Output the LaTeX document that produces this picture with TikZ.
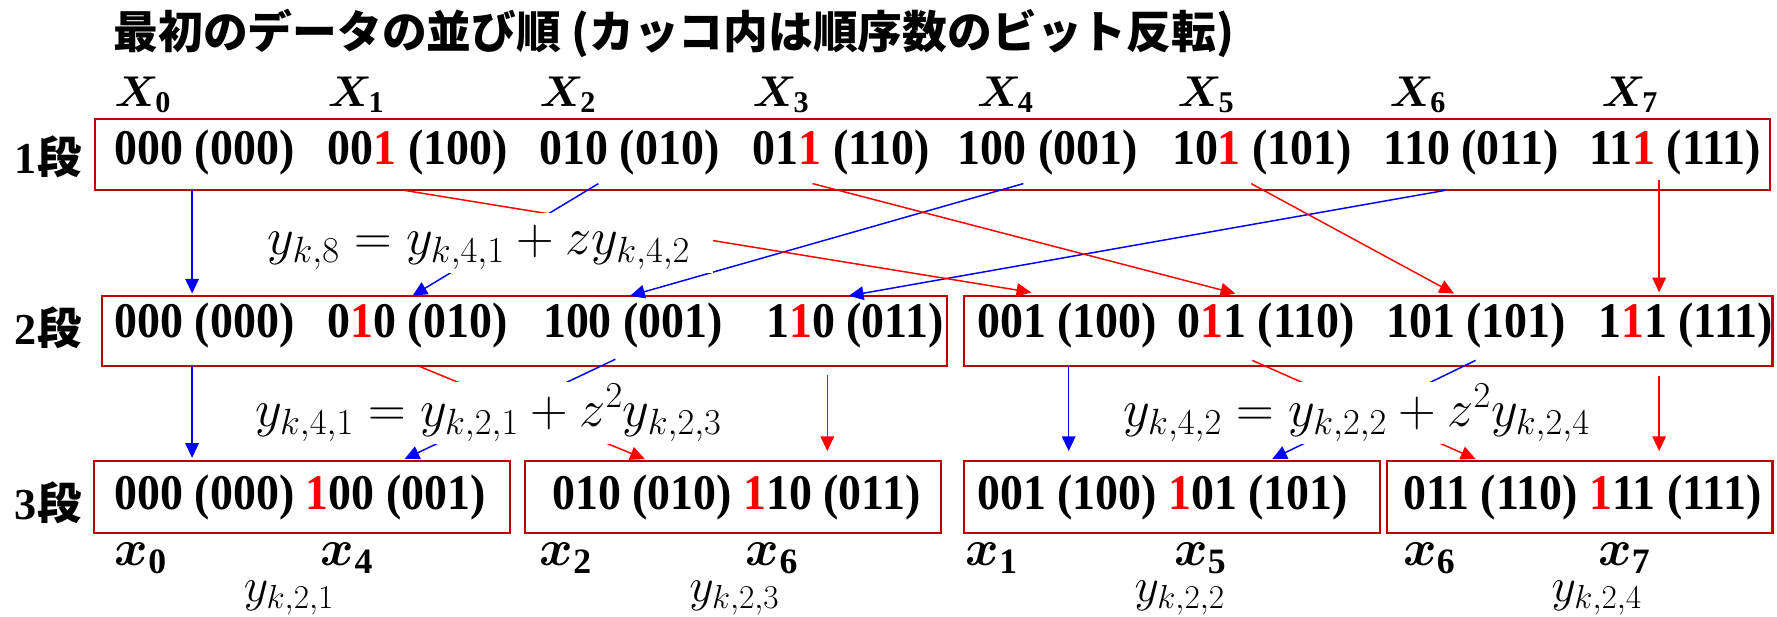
\RequirePackage{fix-cm}
\documentclass[tikz,border=0pt]{standalone}
\usepackage{amsmath}
\usepackage{bm}
\usepackage{fontspec}
\setmainfont{Liberation Serif}
\newfontfamily\ent{Liberation Serif}[FakeStretch=0.92]
\newfontfamily\jp{Noto Sans CJK JP}
\usetikzlibrary{arrows.meta}
\definecolor{boxred}{RGB}{192,0,0}
\definecolor{ared}{RGB}{255,0,0}
\definecolor{ablue}{RGB}{0,0,255}
\newcommand{\rd}[1]{\textcolor{ared}{#1}}
\tikzset{
  entry/.style={anchor=base west, inner sep=0pt, font=\ent\bfseries\fontsize{44}{50}\selectfont},
  rowbox/.style={draw=boxred, line width=1.8pt, inner sep=0pt},
  xlab/.style={anchor=base west, inner sep=0pt, font=\fontsize{38}{44}\selectfont},
  blab/.style={anchor=base west, inner sep=0pt, font=\fontsize{45}{50}\selectfont},
  ylab/.style={anchor=base west, inner sep=0pt, font=\fontsize{42}{48}\selectfont},
  stage/.style={anchor=west, inner sep=0pt, font=\bfseries\fontsize{39}{44}\selectfont},
  formula/.style={anchor=base west, fill=white, inner xsep=20pt, inner ysep=0pt, font=\fontsize{46}{52}\selectfont},
  barrow/.style={draw=ablue, line width=1.3pt, -{Triangle[length=13pt,width=12pt]}},
  rarrow/.style={draw=ared, line width=1.3pt, -{Triangle[length=13pt,width=12pt]}}
}
\begin{document}
\begin{tikzpicture}[x=1pt,y=-1pt]
\useasboundingbox (0,0) rectangle (1568,544);
% title
\node[anchor=west, inner sep=0pt, font=\jp\bfseries\fontsize{39.5}{45}\selectfont] (title) at (100,29.5)
  {最初のデータの並び順 (カッコ内は順序数のビット反転)};
% X labels
\node[xlab] (X0) at (101,94) {$\bm{X}_{\mathbf{0}}$};
\node[xlab] (X1) at (289,94) {$\bm{X}_{\mathbf{1}}$};
\node[xlab] (X2) at (476,94) {$\bm{X}_{\mathbf{2}}$};
\node[xlab] (X3) at (664,94) {$\bm{X}_{\mathbf{3}}$};
\node[xlab] (X4) at (862,94) {$\bm{X}_{\mathbf{4}}$};
\node[xlab] (X5) at (1039,94) {$\bm{X}_{\mathbf{5}}$};
\node[xlab] (X6) at (1226,94) {$\bm{X}_{\mathbf{6}}$};
\node[xlab] (X7) at (1413,94) {$\bm{X}_{\mathbf{7}}$};
% stage labels
\node[stage] (s1) at (13,138) {1{\jp\bfseries 段}};
\node[stage] (s2) at (13,289) {2{\jp\bfseries 段}};
\node[stage] (s3) at (13,444) {3{\jp\bfseries 段}};
% boxes
\node[rowbox, minimum width=1478pt, minimum height=63pt] (b1) at (823,136.5) {};
\node[rowbox, minimum width=746pt, minimum height=62pt] (b2l) at (463,292) {};
\node[rowbox, minimum width=713pt, minimum height=62pt] (b2r) at (1207.5,292) {};
\node[rowbox, minimum width=367pt, minimum height=63pt] (b3a) at (266.5,438.5) {};
\node[rowbox, minimum width=367pt, minimum height=63pt] (b3b) at (646.5,438.5) {};
\node[rowbox, minimum width=367pt, minimum height=63pt] (b3c) at (1034.5,438.5) {};
\node[rowbox, minimum width=340pt, minimum height=63pt] (b3d) at (1394,438.5) {};
% row 1
\node[entry] (r1a) at (101,145) {000 (000)};
\node[entry] (r1b) at (289,145) {00\rd{1} (100)};
\node[entry] (r1c) at (476,145) {010 (010)};
\node[entry] (r1d) at (664,145) {01\rd{1} (110)};
\node[entry] (r1e) at (845,145) {100 (001)};
\node[entry] (r1f) at (1034,145) {10\rd{1} (101)};
\node[entry] (r1g) at (1221,145) {110 (011)};
\node[entry] (r1h) at (1402,145) {11\rd{1} (111)};
% row 2
\node[entry] (r2a) at (101,298) {000 (000)};
\node[entry] (r2b) at (289,298) {0\rd{1}0 (010)};
\node[entry] (r2c) at (479,298) {100 (001)};
\node[entry] (r2d) at (676,298) {1\rd{1}0 (011)};
\node[entry] (r2e) at (862,298) {001 (100)};
\node[entry] (r2f) at (1039,298) {0\rd{1}1 (110)};
\node[entry] (r2g) at (1223,298) {101 (101)};
\node[entry] (r2h) at (1410,298) {1\rd{1}1 (111)};
% row 3
\node[entry] (r3a) at (101,450) {000 (000) \rd{1}00 (001)};
\node[entry] (r3b) at (487,450) {010 (010) \rd{1}10 (011)};
\node[entry] (r3c) at (862,450) {001 (100) \rd{1}01 (101)};
\node[entry] (r3d) at (1238,450) {011 (110) \rd{1}11 (111)};
% bottom labels
\node[blab] (x0) at (101,499) {$\bm{x}_{\mathbf{0}}$};
\node[blab] (x4) at (283,499) {$\bm{x}_{\mathbf{4}}$};
\node[blab] (x2) at (476,499) {$\bm{x}_{\mathbf{2}}$};
\node[blab] (x6a) at (658,499) {$\bm{x}_{\mathbf{6}}$};
\node[blab] (x1) at (852,499) {$\bm{x}_{\mathbf{1}}$};
\node[blab] (x5) at (1036,499) {$\bm{x}_{\mathbf{5}}$};
\node[blab] (x6b) at (1238,499) {$\bm{x}_{\mathbf{6}}$};
\node[blab] (x7) at (1410,499) {$\bm{x}_{\mathbf{7}}$};
\node[ylab] (y21) at (215,531) {$y_{k,2,1}$};
\node[ylab] (y23) at (608,531) {$y_{k,2,3}$};
\node[ylab] (y22) at (1001,531) {$y_{k,2,2}$};
\node[ylab] (y24) at (1369,531) {$y_{k,2,4}$};
% arrow end points
\coordinate (a0s) at (169.5,168); \coordinate (a0t) at (169.5,259);
\coordinate (a2s) at (528,162);   \coordinate (a2t) at (364,261);
\coordinate (a4s) at (903,162);   \coordinate (a4t) at (556,261);
\coordinate (a6s) at (1275,168);  \coordinate (a6t) at (749,261);
\coordinate (a1s) at (357,168);   \coordinate (a1t) at (910,258);
\coordinate (a3s) at (717,162);   \coordinate (a3t) at (1090,259);
\coordinate (a5s) at (1104,162);  \coordinate (a5t) at (1283,259);
\coordinate (a7s) at (1464,159);  \coordinate (a7t) at (1464,258);
\coordinate (c0s) at (169.5,323); \coordinate (c0t) at (169.5,404);
\coordinate (c1s) at (370.6,323.5); \coordinate (c1t) at (569,405);
\coordinate (c2s) at (543,317);   \coordinate (c2t) at (357,405);
\coordinate (c3s) at (730,331);   \coordinate (c3t) at (730,398);
\coordinate (c4s) at (943,323);   \coordinate (c4t) at (943,398);
\coordinate (c5s) at (1105,318);  \coordinate (c5t) at (1302,405);
\coordinate (c6s) at (1302,318);  \coordinate (c6t) at (1122.5,405);
\coordinate (c7s) at (1464,332);  \coordinate (c7t) at (1464,398);
% arrows stage 1 -> 2
\draw[barrow] (a0s) -- (a0t);
\draw[barrow] (a2s) -- (a2t);
\draw[barrow] (a4s) -- (a4t);
\draw[barrow] (a6s) -- (a6t);
\draw[rarrow] (a1s) -- (a1t);
\draw[rarrow] (a3s) -- (a3t);
\draw[rarrow] (a5s) -- (a5t);
\draw[rarrow] (a7s) -- (a7t);
% arrows stage 2 -> 3
\draw[barrow] (c0s) -- (c0t);
\draw[rarrow] (c1s) -- (c1t);
\draw[barrow] (c2s) -- (c2t);
\draw[rarrow] (c3s) -- (c3t);
\draw[barrow] (c4s) -- (c4t);
\draw[rarrow] (c5s) -- (c5t);
\draw[barrow] (c6s) -- (c6t);
\draw[rarrow] (c7s) -- (c7t);
% formulas (white background hides the crossing lines)
\node[formula, text height=37pt, text depth=16pt] (f1) at (216,225) {$y_{k,8} = y_{k,4,1} + z y_{k,4,2}$};
\node[formula, text height=39.5pt, text depth=15.5pt] (f2) at (205,376.5) {$y_{k,4,1} = y_{k,2,1} + z^{2} y_{k,2,3}$};
\node[formula, text height=39.5pt, text depth=15.5pt] (f3) at (971,376.5) {$y_{k,4,2} = y_{k,2,2} + z^{2} y_{k,2,4}$};
\end{tikzpicture}
\end{document}
